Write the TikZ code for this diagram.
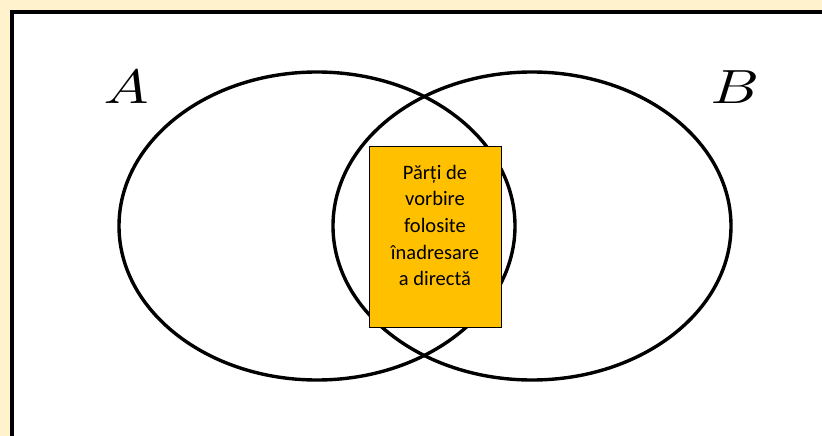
\documentclass[tikz,border=0pt]{standalone}
\usepackage{fontspec}
\newfontfamily\calibri{Carlito}
\usetikzlibrary{positioning}
\definecolor{cream}{HTML}{FFF2CC}
\definecolor{amber}{HTML}{FFC000}

\begin{document}
\begin{tikzpicture}[x=1pt, y=-1pt,
        setname/.style={inner sep=0pt},
        circ/.style={line width=3.4pt},
        keybox/.style={draw, line width=0.6pt, fill=amber, minimum width=132pt, minimum height=181pt}]
        \fill [cream] (0,0) rectangle (822,436);
        \useasboundingbox (0,0) rectangle (822,436);

        % frame, cut off at right and bottom
        \fill [white] (12,12) rectangle (830,444);
        \draw [line width=4pt] (12,444) -- (12,12) -- (830,12);

        % the two sets
        \coordinate (cA) at (317, 226);
        \coordinate (cB) at (532, 226);
        \draw [circ] (cA) ellipse [x radius=198pt, y radius=154pt];
        \draw [circ] (cB) ellipse [x radius=199pt, y radius=154pt];
        \node [setname] (A) at (126, 87) {\scalebox{6}[4.8]{$A$}};
        \node [setname] (B) at (735, 87) {\scalebox{6}[4.8]{$B$}};

        % the common part
        \node [keybox] (box) at (435, 236.5) {};
        \node [font=\calibri\fontsize{20.5}{26.6}\selectfont, align=center] (common)
            at ([yshift=11pt]box.center) {Părți de\\vorbire\\folosite\\înadresare\\a directă};
    \end{tikzpicture}
\end{document}
